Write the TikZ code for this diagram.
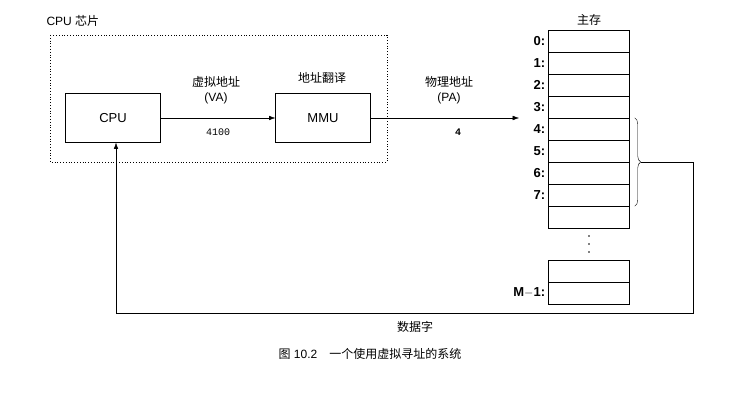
\documentclass[tikz,border=0pt]{standalone}
\usepackage{fontspec}
\setmainfont{Liberation Sans}
\setmonofont{Liberation Mono}
\newfontfamily\cjk{Noto Sans CJK SC}
\usetikzlibrary{arrows.meta,decorations.pathreplacing,calc}
\tikzset{%
  >={Latex[width=1.6mm,length=2.2mm]},
  % Specifications for style of nodes:
       base/.style = {rectangle, draw=black, font=\fontsize{13}{15}\selectfont},
   unitbox/.style = {base, minimum width=95pt, minimum height=49pt},
  cellbox/.style = {draw=black, minimum width=81pt, minimum height=22pt,
                    inner sep=0pt},
  celllbl/.style = {anchor=east, inner sep=3pt, font=\bfseries\fontsize{13}{15}\selectfont},
    label/.style = {font=\fontsize{12}{15}\selectfont, align=center},
}
\begin{document}
\begin{tikzpicture}[x=1pt, y=-1pt]
  \useasboundingbox (0,0) rectangle (733,401);
  % CPU chip
  \draw[dotted, thick] (50,35) rectangle (387,162);
  \node[label, anchor=west] (chiplbl) at (43,21) {CPU {\cjk 芯片}};
  \node (cpu) [unitbox] at (113,118) {CPU};
  \node (mmu) [unitbox] at (323,118) {MMU};
  \node[label] (va) at (216,90) {{\cjk 虚拟地址}\\(VA)};
  \node[label] (mmulbl) at (322,78) {\cjk 地址翻译};
  \node[font=\ttfamily\fontsize{10}{12}\selectfont] (vanum) at (218,132) {4100};
  \node[label] (pa) at (449,90) {{\cjk 物理地址}\\(PA)};
  \node[font=\ttfamily\bfseries\fontsize{10}{12}\selectfont] (panum) at (458,132) {4};
  % Main memory
  \node[label] (memlbl) at (589,20) {\cjk 主存};
  \foreach \i in {0,...,8} {
    \node (c\i) [cellbox] at (589,{41+22*\i}) {};
  }
  \foreach \i in {0,...,7} {
    \node[celllbl] (l\i) at (c\i.west) {\i:};
  }
  \node (cA) [cellbox] at (589,271) {};
  \node (cB) [cellbox] at (589,293) {};
  \node[celllbl] (lB) at (cB.west) {M$-$1:};
  \foreach \y in {236,244,252} \fill (589,\y) circle (0.8pt);
  % Brace round words 4..7
  \draw[decorate, decoration={brace, amplitude=6pt}]
    ($(c4.north east)+(5,0)$) -- ($(c7.south east)+(5,0)$);
  \coordinate (btip) at (641,162);
  \coordinate (rt) at (693,162);
  \coordinate (rb) at (693,313);
  \coordinate (lb) at (116,313);
  % Connectors
  \draw[->] (cpu) -- (mmu);
  \draw[->] (mmu) -- (519,118);
  \draw[->] (btip) -- (rt) -- (rb) -- (lb) -- (cpu.south -| lb);
  \node[label] (data) at (415,327) {\cjk 数据字};
  \node[label] (cap) at (370,354) {{\cjk 图} 10.2\quad {\cjk 一个使用虚拟寻址的系统}};
\end{tikzpicture}
\end{document}
